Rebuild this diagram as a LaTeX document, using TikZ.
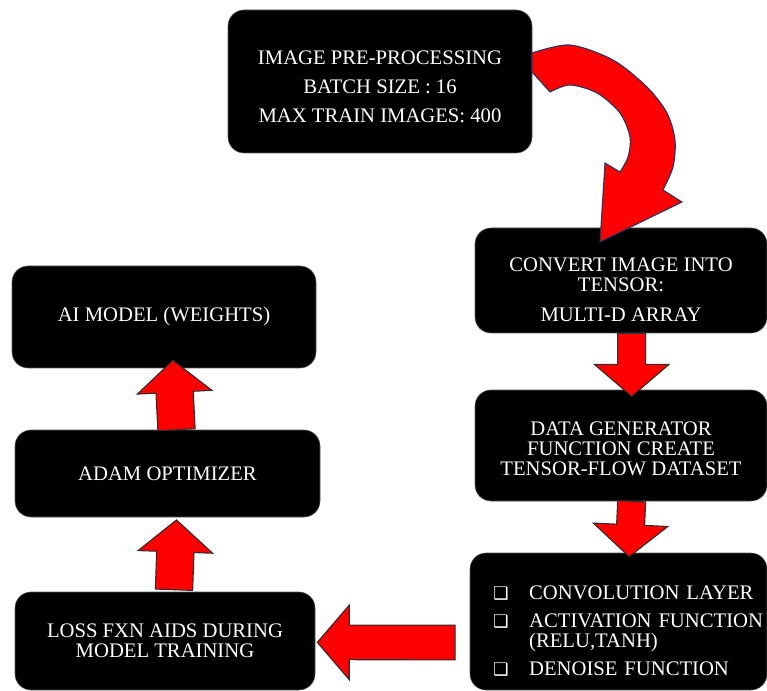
\documentclass[tikz,border=0pt]{standalone}
\usepackage{fontspec}
\setmainfont{Liberation Serif}
\newfontfamily\dingfont{DejaVu Sans}
\usetikzlibrary{calc}
\definecolor{ArrRed}  {RGB}{255,0,0}
\definecolor{ArrLine} {RGB}{45,45,45}
\definecolor{BendLine}{RGB}{31,56,100}
\tikzset{
  % black rounded box, size in px
  stepbox/.style 2 args={
    rectangle, rounded corners=12pt,
    fill=black, draw=gray!70!black, line width=0.4pt,
    text=white, align=center, font=\rmfamily\fontsize{15.5}{15}\selectfont,
    minimum width=#1*0.75pt, minimum height=#2*0.75pt, inner sep=0pt
  },
  fatarrow/.style={fill=ArrRed, draw=ArrLine, line width=0.8pt, line join=miter},
  bendarrow/.style={fill=ArrRed, draw=BendLine, line width=0.8pt, line join=miter}
}
\newcommand\fahead{28pt}
\newcommand\falen{24pt}
\newcommand\padtop[1]{\rule{0pt}{#1}}
\newcommand\bul{\makebox[27pt][l]{\dingfont\fontsize{13}{13}\selectfont ❑}}
% block arrow: from, to, half shaft width
\newcommand\fatarrow[3]{%
  \coordinate (fa-s) at (#1);
  \coordinate (fa-t) at (#2);
  \coordinate (fa-h) at ($(fa-t)!\falen!(fa-s)$);
  \draw[fatarrow] ($(fa-s)!#3!90:(fa-t)$) -- ($(fa-h)!#3!90:(fa-t)$)
    -- ($(fa-h)!\fahead!90:(fa-t)$) -- (fa-t) -- ($(fa-h)!\fahead!-90:(fa-t)$)
    -- ($(fa-h)!#3!-90:(fa-t)$) -- ($(fa-s)!#3!-90:(fa-t)$) -- cycle;
}

\begin{document}
\begin{tikzpicture}[x=0.75pt, y=-0.75pt]
  \useasboundingbox (0,0) rectangle (767,691);

  %% right column
  \node[stepbox={304}{143}] (pre) at (380,81.5)
    {\padtop{18pt}IMAGE PRE-PROCESSING\\[7pt]BATCH SIZE : 16\\[7pt]MAX TRAIN IMAGES: 400};
  \node[stepbox={292}{105}] (conv) at (621,280.5)
    {\padtop{24pt}CONVERT IMAGE INTO\\TENSOR:\\[7pt]MULTI-D ARRAY};
  \node[stepbox={292}{111}] (gen) at (621,445.5)
    {\padtop{15pt}DATA GENERATOR\\FUNCTION CREATE\\TENSOR-FLOW DATASET};
  \node[stepbox={297}{137}, align=left, text width=188pt] (layers) at (618.5,621.5)
    {\mbox{\padtop{24pt}\bul CONVOLUTION LAYER}\\[6pt]
     \mbox{\bul ACTIVATION FUNCTION}\\\hspace*{27pt}(RELU,TANH)\\[6pt]
     \mbox{\bul DENOISE FUNCTION}};

  %% left column
  \node[stepbox={300}{98}]  (loss)  at (165,641)
    {LOSS FXN AIDS DURING\\MODEL TRAINING};
  \node[stepbox={305}{87}]  (adam)  at (167.5,473.5) {ADAM OPTIMIZER};
  \node[stepbox={304}{102}] (model) at (164,317) {AI MODEL (WEIGHTS)};

  %% arrows
  \draw[bendarrow] (532,72) -- plot[smooth] coordinates {(532,53) (570,45) (613,60)
      (647,87) (667,113) (675,140) (673,167) (663,190)}
    -- (682,202) -- (600,242) -- (605,163)
    -- plot[smooth] coordinates {(620,172) (628,157) (630,137) (620,113)
      (597,93) (570,85) (550,92)} -- cycle;

  \fatarrow{[xshift=8pt]conv.south}{[xshift=8pt,yshift=-5pt]gen.north}{10.5pt}
  \fatarrow{[xshift=8pt]gen.south}{[xshift=8pt,yshift=-3pt]layers.north}{10.5pt}
  \fatarrow{[xshift=-11pt,yshift=-15.75pt]layers.west}{[xshift=1.5pt,yshift=-1pt]loss.east}{13pt}
  \fatarrow{[xshift=6.75pt,yshift=1.5pt]loss.north}{[xshift=6.75pt,yshift=-2pt]adam.south}{14pt}
  \fatarrow{[xshift=6.75pt]adam.north}{[xshift=6.75pt,yshift=6pt]model.south}{14pt}

\end{tikzpicture}
\end{document}
